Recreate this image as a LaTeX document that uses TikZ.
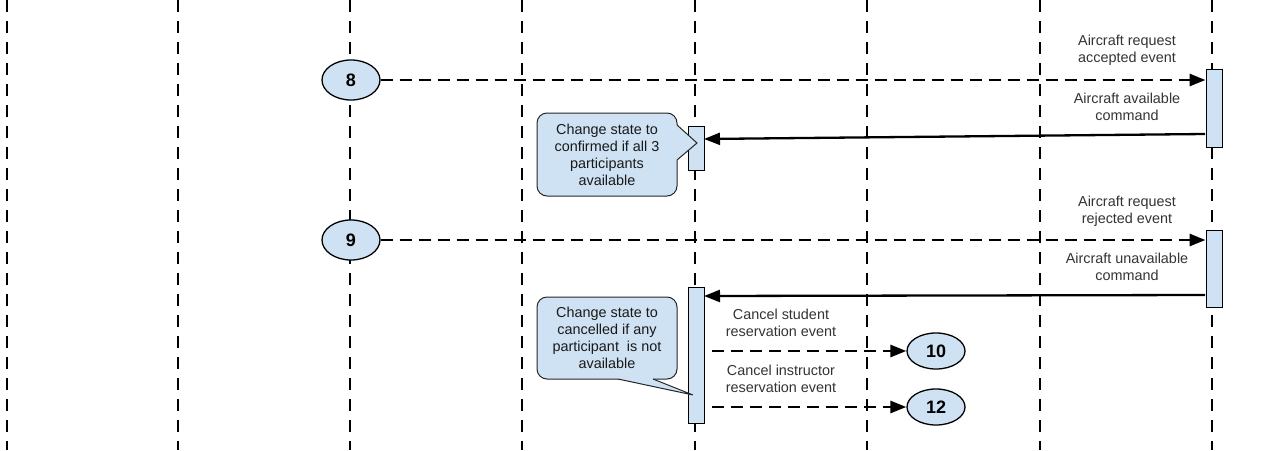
\documentclass[tikz,border=0pt]{standalone}
\usepackage{fontspec}
\setmainfont{Liberation Sans}
\usetikzlibrary{arrows.meta,calc,shapes.geometric}
\definecolor{boxblue}{HTML}{CFE2F3}
\definecolor{labelgray}{HTML}{333333}
\begin{document}
\begin{tikzpicture}[x=1pt,y=-1pt,
  lifeline/.style={line width=2.6pt, dash pattern=on 12pt off 9pt},
  bar/.style={draw=black, line width=1pt, fill=boxblue, minimum width=16pt, inner sep=0pt},
  stepnum/.style={ellipse, draw=black, line width=1.3pt, fill=boxblue, minimum width=58pt, inner sep=0pt, font=\fontsize{18}{18}\selectfont\bfseries},
  msg/.style={line width=2.8pt, dash pattern=on 12pt off 7pt, -{Triangle[length=16pt,width=12pt]}},
  cmd/.style={line width=2.3pt, -{Triangle[length=16pt,width=12pt]}},
  lbl/.style={align=center, text=labelgray, font=\fontsize{14.4}{17}\selectfont, inner sep=0pt},
  callout/.style={draw=black!85, line width=1pt, fill=boxblue, rounded corners=10pt, minimum width=140pt, align=center, font=\fontsize{14.4}{17}\selectfont, text=black!90, inner sep=0pt},
  ptr/.style={draw=black!85, line width=1pt},
]
\useasboundingbox (0,0) rectangle (1280,450);
% lifelines
\foreach \x [count=\i] in {7,178,350,522,695,867,1040,1212}{
  \coordinate (lt\i) at (\x,0);
  \coordinate (lb\i) at (\x,450);
  \draw[lifeline] (lt\i) -- (lb\i);
}
% activation bars
\node[bar, minimum height=78pt] (r1) at (1214,108) {};
\node[bar, minimum height=77pt] (r2) at (1214,268.5) {};
\node[bar, minimum height=44pt] (m1) at (696,148) {};
\node[bar, minimum height=136pt] (m2) at (696,355) {};
% step ellipses
\node[stepnum, minimum height=40pt] (e8) at (351,80) {8};
\node[stepnum, minimum height=40pt] (e9) at (351,240) {9};
\node[stepnum, minimum height=36pt] (e10) at (936,351) {10};
\node[stepnum, minimum height=36pt] (e12) at (936,407) {12};
% messages
\draw[msg] (e8.east) -- (r1.west |- e8.east);
\draw[msg] (e9.east) -- (r2.west |- e9.east);
\coordinate (a1s) at (1205,134);
\coordinate (a1e) at (704,139);
\draw[cmd] (a1s) -- (a1e);
\coordinate (a2s) at (1205,295);
\coordinate (a2e) at (704,296);
\draw[cmd] (a2s) -- (a2e);
\coordinate (c10s) at (712,351);
\coordinate (c12s) at (712,407);
\draw[msg] (c10s) -- (e10.west);
\draw[msg] (c12s) -- (e12.west);
% labels
\node[lbl] (l1) at (1127,50) {Aircraft request\\accepted event};
\node[lbl] (l2) at (1127,107) {Aircraft available\\command};
\node[lbl] (l3) at (1127,211) {Aircraft request\\rejected event};
\node[lbl] (l4) at (1127,267) {Aircraft unavailable\\command};
\node[lbl] (l5) at (781,323) {Cancel student\\reservation event};
\node[lbl] (l6) at (781,379) {Cancel instructor\\reservation event};
% callouts
\node[callout, minimum height=83pt] (c1) at (607,154.5) {Change state to\\confirmed if all 3\\participants\\available};
\coordinate (p1a) at (677,125);
\coordinate (p1t) at (697,143);
\coordinate (p1b) at (677,160);
\fill[boxblue] (670,125) -- (p1a) -- (p1t) -- (p1b) -- (670,160) -- cycle;
\draw[ptr] (p1a) -- (p1t) -- (p1b);
\node[callout, minimum height=82pt] (c2) at (607,338) {Change state to\\cancelled if any\\participant\ \ is not\\available};
\coordinate (p2a) at (618,379);
\coordinate (p2t) at (693,395);
\coordinate (p2b) at (653,379);
\fill[boxblue] (618,372) -- (p2a) -- (p2t) -- (p2b) -- (653,372) -- cycle;
\draw[ptr] (p2a) -- (p2t) -- (p2b);
\end{tikzpicture}
\end{document}
